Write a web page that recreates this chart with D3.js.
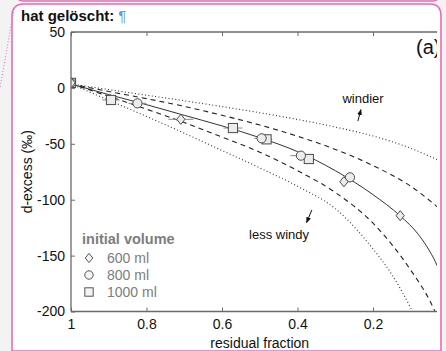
<!DOCTYPE html>
<html>
<head>
<meta charset="utf-8">
<script src="https://cdn.jsdelivr.net/npm/d3@7"></script>
<style>
  html, body { margin: 0; padding: 0; background: #ffffff; }
  svg { display: block; font-family: "Liberation Sans", Arial, sans-serif; }
</style>
</head>
<body>
<svg id="chart" width="446" height="351"></svg>
<script>
// ---- axis ticks ----
const fracTicks = [1, 0.8, 0.6, 0.4, 0.2];
const fracTickLabels = ["1", "0.8", "0.6", "0.4", "0.2"];
const dexTicks = [50, 0, -50, -100, -150, -200];
const dexTickLabels = ["50", "0", "-50", "-100", "-150", "-200"];

// ---- model curves: residual fraction vs d-excess ----
const curveF     = [1.0, 0.9, 0.8, 0.7, 0.6, 0.5, 0.4, 0.3, 0.2, 0.1, 0.0];
const windyDotD  = [3.5, -1.5, -6.5, -11.5, -16.7, -22.2, -28.2, -35.0, -43.0, -54.0, -69.0];
const windyDashD = [3.5, -3.2, -9.6, -16.5, -24.5, -33.2, -43.2, -55.0, -69.5, -88.0, -115.0];

const fitF = [1.0, 0.9, 0.8, 0.7, 0.6, 0.5, 0.4, 0.3, 0.2, 0.128, 0.08, 0.05, 0.03, 0.015];
const fitD = [3.5, -6.0, -15.0, -24.5, -34.0, -44.5, -57.0, -74.0, -95.5, -114.5, -131.0, -146.0, -159.0, -173.0];

const calmDashF = [1.0, 0.9, 0.8, 0.7, 0.6, 0.5, 0.4, 0.3, 0.2, 0.1, 0.05, 0.02];
const calmDashD = [3.5, -7.5, -19.0, -31.0, -44.0, -57.5, -74.0, -93.5, -121.0, -163.0, -190.0, -212.0];
const calmDotF  = [1.0, 0.9, 0.8, 0.7, 0.6, 0.5, 0.4, 0.3, 0.2, 0.15, 0.1, 0.05];
const calmDotD  = [3.5, -11.0, -25.5, -40.5, -56.0, -71.5, -88.0, -108.0, -144.0, -167.0, -197.0, -235.0];

// ---- measurements by initial volume (fraction, d-excess, fraction error) ----
const vol600F   = [1.0, 0.709, 0.277, 0.128];
const vol600D   = [4.5, -28.1, -83.9, -114.3];
const vol600Err = [0, 0.033, 0, 0];
const vol800F   = [1.0, 0.824, 0.495, 0.391, 0.261];
const vol800D   = [4.5, -13.8, -45.1, -60.6, -80.0];
const vol800Err = [0, 0.024, 0.02, 0.028, 0];
const vol1000F   = [1.0, 0.894, 0.571, 0.482, 0.370];
const vol1000D   = [4.5, -10.8, -35.9, -46.0, -63.6];
const vol1000Err = [0, 0.023, 0.025, 0.015, 0.01];

const legendLabels = ["600 ml", "800 ml", "1000 ml"];

// ---- layout ----
const svg = d3.select("#chart");
const pink = "#e66db4";
const axisGrey = "#6a6a6a";

// page background & comment balloon
svg.append("rect").attr("width", 446).attr("height", 351).attr("fill", "#f3f3f3");
svg.append("path")
  .attr("d", "M12,351 L12,16 Q12,4 24,4 L430,4 Q441,4 441,16 L441,351 Z")
  .attr("fill", "#ffffff").attr("stroke", pink).attr("stroke-width", 1.6);
svg.append("path")
  .attr("d", "M16,-6 Q16,1 24,1 L432,1 Q440,1 440,-6")
  .attr("fill", "none").attr("stroke", pink).attr("stroke-width", 1.4);
svg.append("line")
  .attr("x1", 14).attr("y1", 9).attr("x2", 0).attr("y2", 88)
  .attr("stroke", pink).attr("stroke-width", 1).attr("stroke-dasharray", "1,2");

svg.append("text").attr("x", 21).attr("y", 21)
  .attr("font-size", 15).attr("font-weight", "bold").attr("fill", "#111")
  .text("hat gelöscht:")
  .append("tspan").attr("fill", "#5aa0dc").attr("font-weight", "normal").attr("dx", 4).text("¶");

const x = d3.scaleLinear().domain([1, 0]).range([71, 448.5]);
const y = d3.scaleLinear().domain([50, -200]).range([32, 311.5]);
const clipRight = 437;

svg.append("clipPath").attr("id", "plotClip")
  .append("rect").attr("x", 71).attr("y", 32).attr("width", clipRight - 71).attr("height", 311.5 - 32);

const plot = svg.append("g").attr("clip-path", "url(#plotClip)");

const line = d3.line().x(d => x(d[0])).y(d => y(d[1])).curve(d3.curveMonotoneX);
const zip = (a, b) => a.map((v, i) => [v, b[i]]);

const curves = [
  { f: curveF,    d: windyDotD,  dash: "1,2.4", w: 1.1, c: "#333" },
  { f: curveF,    d: windyDashD, dash: "5,4",   w: 1.1, c: "#222" },
  { f: fitF,      d: fitD,       dash: null,    w: 1.0, c: "#333" },
  { f: calmDashF, d: calmDashD,  dash: "5,4",   w: 1.1, c: "#222" },
  { f: calmDotF,  d: calmDotD,   dash: "1,2.4", w: 1.1, c: "#333" }
];
curves.forEach(cv => {
  plot.append("path")
    .attr("d", line(zip(cv.f, cv.d)))
    .attr("fill", "none").attr("stroke", cv.c).attr("stroke-width", cv.w)
    .attr("stroke-dasharray", cv.dash);
});

// error bars
const groups = [
  { f: vol1000F, d: vol1000D, e: vol1000Err, shape: "square" },
  { f: vol800F,  d: vol800D,  e: vol800Err,  shape: "circle" },
  { f: vol600F,  d: vol600D,  e: vol600Err,  shape: "diamond" }
];
groups.forEach(g => {
  g.f.forEach((fv, i) => {
    if (g.e[i] > 0) {
      plot.append("line")
        .attr("x1", x(fv + g.e[i])).attr("x2", x(fv - g.e[i]))
        .attr("y1", y(g.d[i])).attr("y2", y(g.d[i]))
        .attr("stroke", "#8a8a8a").attr("stroke-width", 1);
    }
  });
});

function drawShape(sel, shape, cx, cy, s) {
  if (shape === "square") {
    sel.append("rect").attr("x", cx - s).attr("y", cy - s).attr("width", 2 * s).attr("height", 2 * s);
  } else if (shape === "circle") {
    sel.append("circle").attr("cx", cx).attr("cy", cy).attr("r", s);
  } else {
    sel.append("path").attr("d", `M${cx},${cy - s * 1.1} L${cx + s * 0.9},${cy} L${cx},${cy + s * 1.1} L${cx - s * 0.9},${cy} Z`);
  }
}

const markerLayer = plot.append("g").attr("fill", "#ececec").attr("stroke", "#4a4a4a").attr("stroke-width", 1);
groups.forEach(g => {
  g.f.forEach((fv, i) => drawShape(markerLayer, g.shape, x(fv), y(g.d[i]), 4.6));
});

// annotations
const arrowDef = svg.append("defs").append("marker")
  .attr("id", "arrowHead").attr("viewBox", "0 0 10 10").attr("refX", 9).attr("refY", 5)
  .attr("markerWidth", 6).attr("markerHeight", 6).attr("orient", "auto-start-reverse");
arrowDef.append("path").attr("d", "M0,1 L10,5 L0,9 Z").attr("fill", "#111");

plot.append("line")
  .attr("x1", x(0.240)).attr("y1", y(-29.7)).attr("x2", x(0.232)).attr("y2", y(-19.5))
  .attr("stroke", "#111").attr("stroke-width", 1).attr("marker-end", "url(#arrowHead)");
plot.append("line")
  .attr("x1", x(0.362)).attr("y1", y(-109.2)).attr("x2", x(0.376)).attr("y2", y(-120.5))
  .attr("stroke", "#111").attr("stroke-width", 1).attr("marker-end", "url(#arrowHead)");

plot.append("text").attr("x", 363).attr("y", 103).attr("text-anchor", "middle")
  .attr("font-size", 13).attr("fill", "#111").text("windier");
plot.append("text").attr("x", 279).attr("y", 239).attr("text-anchor", "middle")
  .attr("font-size", 13).attr("fill", "#111").text("less windy");
plot.append("text").attr("x", 416).attr("y", 54)
  .attr("font-size", 20).attr("fill", "#111").text("(a)");

// axes box
const axisG = svg.append("g").attr("stroke", axisGrey).attr("stroke-width", 1.3).attr("fill", "none");
axisG.append("line").attr("x1", 71).attr("x2", clipRight).attr("y1", 32).attr("y2", 32);
axisG.append("line").attr("x1", 71).attr("x2", clipRight).attr("y1", 311.5).attr("y2", 311.5);
axisG.append("line").attr("x1", 71).attr("x2", 71).attr("y1", 32).attr("y2", 311.5);

const bottomAxis = d3.axisBottom(x).tickValues(fracTicks).tickSize(-4).tickPadding(8)
  .tickFormat((d, i) => fracTickLabels[i]);
const gB = svg.append("g").attr("transform", "translate(0,311.5)").call(bottomAxis);
const topAxis = d3.axisTop(x).tickValues(fracTicks).tickSize(-4).tickFormat("");
const gT = svg.append("g").attr("transform", "translate(0,32)").call(topAxis);
const leftAxis = d3.axisLeft(y).tickValues(dexTicks).tickSize(-4).tickPadding(8)
  .tickFormat((d, i) => dexTickLabels[i]);
const gL = svg.append("g").attr("transform", "translate(71,0)").call(leftAxis);
[gB, gT, gL].forEach(g => {
  g.select(".domain").remove();
  g.selectAll(".tick line").attr("stroke", axisGrey).attr("stroke-width", 1);
  g.selectAll(".tick text").attr("font-size", 14).attr("fill", "#111")
    .attr("font-family", "'Liberation Sans', Arial, sans-serif");
});
gL.selectAll(".tick text").attr("dx", "0.15em");

svg.append("text").attr("x", x(0.5)).attr("y", 348).attr("text-anchor", "middle")
  .attr("font-size", 14).attr("fill", "#111").text("residual fraction");
svg.append("text").attr("transform", `translate(32,${(32 + 311.5) / 2}) rotate(-90)`)
  .attr("text-anchor", "middle").attr("font-size", 14).attr("fill", "#111").text("d-excess (‰)");

// legend
const lg = svg.append("g");
lg.append("text").attr("x", 82).attr("y", 244).attr("font-size", 14.5).attr("font-weight", "bold")
  .attr("fill", "#7d7d7d").text("initial volume");
const legShapes = ["diamond", "circle", "square"];
legendLabels.forEach((lab, i) => {
  const cy = 258 + i * 17;
  const sg = lg.append("g").attr("fill", "#f4f4f4").attr("stroke", "#555").attr("stroke-width", 1);
  drawShape(sg, legShapes[i], 89, cy, 4.2);
  lg.append("text").attr("x", 107).attr("y", cy + 5).attr("font-size", 14).attr("fill", "#7d7d7d").text(lab);
});
</script>
</body>
</html>
